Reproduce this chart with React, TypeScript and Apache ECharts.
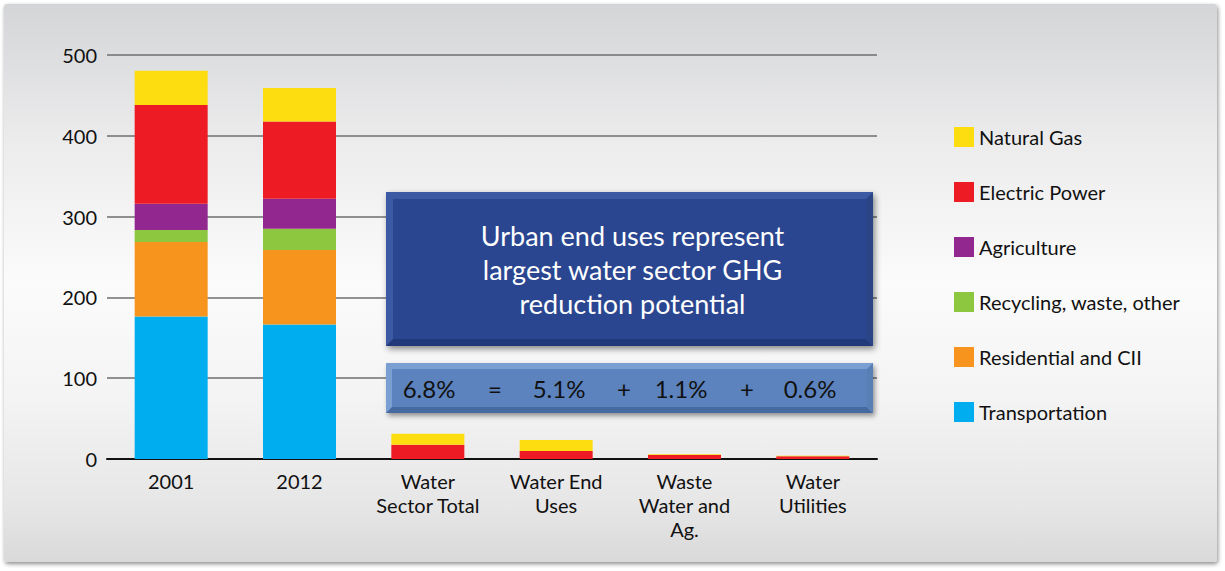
import React, { useEffect, useRef } from "react";
import * as echarts from "echarts";

const categories = ["2001", "2012", "Water\nSector Total", "Water End\nUses", "Waste\nWater and\nAg.", "Water\nUtilities"];
const transportation = [176.5, 166.6, 0, 0, 0, 0];
const residential = [92, 92, 0, 0, 0, 0];
const recycling = [15, 26.3, 0, 0, 0, 0];
const agriculture = [32.5, 37.2, 0, 0, 0, 0];
const electricPower = [122, 95.6, 17.7, 10, 5, 3.4];
const naturalGas = [42.5, 41.4, 13.5, 13.5, 0.8, 0.6];
const yTicks = { min: 0, max: 500, interval: 100 };
const calloutLines = ["Urban end uses represent", "largest water sector GHG", "reduction potential"];
const equationParts = ["6.8%", "=", "5.1%", "+", "1.1%", "+", "0.6%"];

const FONT = "Lato, 'Noto Sans', sans-serif";

export default function App() {
  const ref = useRef<HTMLDivElement>(null);
  useEffect(() => {
    if (!ref.current) return;
    const chart = echarts.init(ref.current, null, { renderer: "svg" });
    const seriesDefs = [
      { name: "Transportation", data: transportation, color: "#00aeef" },
      { name: "Residential and CII", data: residential, color: "#f7941d" },
      { name: "Recycling, waste, other", data: recycling, color: "#8dc63f" },
      { name: "Agriculture", data: agriculture, color: "#92278f" },
      { name: "Electric Power", data: electricPower, color: "#ed1c24" },
      { name: "Natural Gas", data: naturalGas, color: "#fedd10" },
    ];
    const eqX = [429, 495, 559, 624, 681, 747, 810];
    const boxL = 386, boxR = 873;
    const graphic: any[] = [
      { type: "rect", z: 100, shape: { x: boxL, y: 192, width: boxR - boxL, height: 154 }, style: { fill: "#3a5aa3", shadowBlur: 6, shadowOffsetX: 2, shadowOffsetY: 3, shadowColor: "rgba(0,0,0,0.45)" } },
      { type: "polygon", z: 101, shape: { points: [[boxL, 346], [boxR, 346], [boxR - 7, 339], [boxL + 7, 339]] }, style: { fill: "#22397a" } },
      { type: "polygon", z: 101, shape: { points: [[boxR, 192], [boxR, 346], [boxR - 7, 339], [boxR - 7, 199]] }, style: { fill: "#2a4486" } },
      { type: "rect", z: 102, shape: { x: boxL + 7, y: 199, width: boxR - boxL - 14, height: 140 }, style: { fill: "#2b4690" } },
      ...calloutLines.map((t, i) => ({
        type: "text", z: 103, x: (boxL + boxR) / 2 + 3, y: 235 + i * 34,
        style: { text: t, fill: "#ffffff", font: `27px ${FONT}`, align: "center", verticalAlign: "middle" },
      })),
      { type: "rect", z: 100, shape: { x: boxL, y: 363, width: boxR - boxL, height: 50 }, style: { fill: "#7a9fd3", shadowBlur: 5, shadowOffsetX: 2, shadowOffsetY: 3, shadowColor: "rgba(0,0,0,0.4)" } },
      { type: "polygon", z: 101, shape: { points: [[boxL, 413], [boxR, 413], [boxR - 6, 407], [boxL + 6, 407]] }, style: { fill: "#466a9f" } },
      { type: "polygon", z: 101, shape: { points: [[boxR, 363], [boxR, 413], [boxR - 6, 407], [boxR - 6, 369]] }, style: { fill: "#5a7fb5" } },
      { type: "rect", z: 102, shape: { x: boxL + 6, y: 369, width: boxR - boxL - 12, height: 38 }, style: { fill: "#5c83bd" } },
      ...equationParts.map((t, i) => ({
        type: "text", z: 103, x: eqX[i], y: 388,
        style: { text: t, fill: "#111111", font: `24px ${FONT}`, align: "center", verticalAlign: "middle" },
      })),
    ];
    chart.setOption({
      animation: false,
      backgroundColor: "transparent",
      grid: { left: 107, right: 348, top: 55, bottom: 112, containLabel: false },
      legend: {
        orient: "vertical",
        left: 949,
        top: 122,
        itemWidth: 20,
        itemHeight: 20,
        itemGap: 35,
        icon: "rect",
        data: ["Natural Gas", "Electric Power", "Agriculture", "Recycling, waste, other", "Residential and CII", "Transportation"],
        textStyle: { fontFamily: FONT, fontSize: 20, color: "#111", lineHeight: 20, padding: [0, 0, 0, 0] },
      },
      xAxis: {
        type: "category",
        data: categories,
        axisLine: { lineStyle: { color: "#111", width: 2 } },
        axisTick: { show: false },
        axisLabel: { fontFamily: FONT, fontSize: 20, color: "#111", lineHeight: 24, margin: 10, interval: 0 },
      },
      yAxis: {
        type: "value",
        min: yTicks.min,
        max: yTicks.max,
        interval: yTicks.interval,
        axisLine: { show: false },
        axisTick: { show: false },
        axisLabel: { fontFamily: FONT, fontSize: 20, color: "#111", margin: 10 },
        splitLine: { lineStyle: { color: "#6e6e6e", width: 1.5 } },
      },
      series: seriesDefs.map((s) => ({
        name: s.name,
        type: "bar",
        stack: "total",
        data: s.data,
        barWidth: 73,
        itemStyle: { color: s.color },
      })),
      graphic,
    });
    return () => chart.dispose();
  }, []);
  return (
    <div style={{ position: "absolute", left: 0, top: 0, width: 1225, height: 571, background: "#ffffff" }}>
      <div
        style={{
          position: "absolute", left: 4, top: 4, width: 1213, height: 558, borderRadius: 3,
          background: "linear-gradient(to bottom, #d4d5d7 0%, #ececed 25%, #fbfbfb 50%, #f4f4f4 70%, #e6e6e6 90%, #d9d9da 100%)",
          boxShadow: "1px 2px 4px rgba(0,0,0,0.45)",
        }}
      />
      <div ref={ref} style={{ position: "absolute", left: 0, top: 0, width: 1225, height: 571 }} />
    </div>
  );
}
